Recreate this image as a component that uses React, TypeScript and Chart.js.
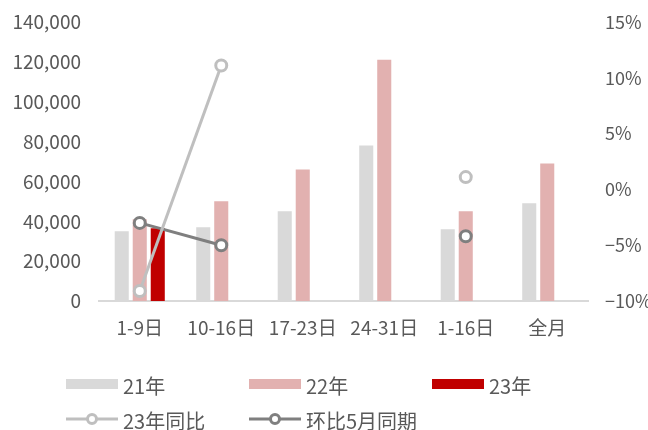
import React, { useEffect, useRef } from "react";
import { Chart, registerables } from "chart.js";

Chart.register(...registerables);

const categories = ["1-9日", "10-16日", "17-23日", "24-31日", "1-16日", "全月"];
const sales21 = [35000, 37000, 45000, 78000, 36000, 49000];
const sales22 = [41000, 50000, 66000, 121000, 45000, 69000];
const sales23 = [36500, null, null, null, null, null];
const yoy23 = [-9.1, 11.1, null, null, 1.1, null];
const vsMay = [-3.0, -5.0, null, null, -4.2, null];

const leftTicks = { min: 0, max: 140000, step: 20000 };
const rightTicks = { min: -10, max: 15, step: 5 };

const FONT = "'Noto Sans CJK SC', 'Noto Sans', sans-serif";
const TEXT = "#595959";

const C21 = "#d9d9d9";
const C22 = "#e2b1b0";
const C23 = "#c00000";
const CYOY = "#bfbfbf";
const CMAY = "#7f7f7f";

// Two-row legend laid out in fixed columns under the x axis
const gridLegend = {
  id: "gridLegend",
  afterDraw(chart: any) {
    const ctx = chart.ctx;
    const cols = [66, 249, 432];
    const rows = [384, 419];
    const swatchW = 52;
    ctx.save();
    ctx.font = `20px ${FONT}`;
    ctx.fillStyle = TEXT;
    ctx.textBaseline = "middle";
    ctx.textAlign = "left";
    const bars = chart.data.datasets.filter((d: any) => d.type === "bar");
    const lines = chart.data.datasets.filter((d: any) => d.type === "line");
    bars.forEach((d: any, i: number) => {
      const x = cols[i];
      const y = rows[0];
      ctx.fillStyle = d.backgroundColor;
      ctx.fillRect(x, y - 5, swatchW, 10);
      ctx.fillStyle = TEXT;
      ctx.fillText(d.label, x + swatchW + 5, y + 2);
    });
    lines.forEach((d: any, i: number) => {
      const x = cols[i];
      const y = rows[1];
      ctx.strokeStyle = d.borderColor;
      ctx.lineWidth = 3;
      ctx.beginPath();
      ctx.moveTo(x, y);
      ctx.lineTo(x + swatchW, y);
      ctx.stroke();
      ctx.beginPath();
      ctx.arc(x + swatchW / 2, y, 4.5, 0, Math.PI * 2);
      ctx.fillStyle = "#ffffff";
      ctx.fill();
      ctx.lineWidth = 3;
      ctx.stroke();
      ctx.fillStyle = TEXT;
      ctx.fillText(d.label, x + swatchW + 5, y + 2);
    });
    ctx.restore();
  },
};

const fmtThousands = (v: number) =>
  v === 0 ? "0" : String(v).replace(/\B(?=(\d{3})+(?!\d))/g, ",");
const fmtPct = (v: number) => (v < 0 ? "\u2212" + Math.abs(v) + "%" : v + "%");

// Fix the width of a vertical axis and drop its label overhang so the
// plot area is governed by the layout padding alone
const fitVertical = (width: number) => (scale: any) => {
  scale.width = width;
  scale.paddingTop = 0;
  scale.paddingBottom = 0;
};

export default function App() {
  const canvasRef = useRef<HTMLCanvasElement | null>(null);

  useEffect(() => {
    document.body.style.margin = "0";
    const canvas = canvasRef.current;
    if (!canvas) return;
    const lineStyle = (color: string) => ({
      borderColor: color,
      backgroundColor: color,
      borderWidth: 3,
      pointRadius: 5.5,
      pointBorderWidth: 3,
      pointBackgroundColor: "#ffffff",
      pointBorderColor: color,
      tension: 0,
      spanGaps: false,
      yAxisID: "y1",
    });
    const barStyle = {
      categoryPercentage: 0.663,
      barPercentage: 0.78,
      yAxisID: "y",
      borderWidth: 0,
    };
    const chart = new Chart(canvas, {
      type: "bar",
      data: {
        labels: categories,
        datasets: [
          { type: "bar", label: "21年", data: sales21, backgroundColor: C21, order: 3, ...barStyle },
          { type: "bar", label: "22年", data: sales22, backgroundColor: C22, order: 3, ...barStyle },
          { type: "bar", label: "23年", data: sales23, backgroundColor: C23, order: 3, ...barStyle },
          { type: "line", label: "23年同比", data: yoy23, order: 1, ...lineStyle(CYOY) },
          { type: "line", label: "环比5月同期", data: vsMay, order: 2, ...lineStyle(CMAY) },
        ] as any,
      },
      options: {
        animation: false,
        responsive: false,
        maintainAspectRatio: false,
        layout: { padding: { top: 22, left: 0, right: 0, bottom: 0 } },
        plugins: {
          legend: { display: false },
          tooltip: { enabled: false },
        },
        scales: {
          x: {
            grid: { display: false, drawTicks: false },
            border: { display: true, color: "#d9d9d9", width: 2 },
            ticks: {
              color: TEXT,
              font: { family: FONT, size: 19 },
              padding: 15,
              maxRotation: 0,
              autoSkip: false,
            },
            afterFit(scale: any) {
              scale.height = 129;
            },
          },
          y: {
            position: "left",
            min: leftTicks.min,
            max: leftTicks.max,
            grid: { display: false, drawTicks: false },
            border: { display: false },
            ticks: {
              stepSize: leftTicks.step,
              color: TEXT,
              font: { family: FONT, size: 19 },
              padding: 18,
              callback: (v: any) => fmtThousands(Number(v)),
            },
            afterFit: fitVertical(99),
          },
          y1: {
            position: "right",
            min: rightTicks.min,
            max: rightTicks.max,
            grid: { display: false, drawTicks: false },
            border: { display: false },
            ticks: {
              stepSize: rightTicks.step,
              color: TEXT,
              font: { family: FONT, size: 18 },
              padding: 17,
              callback: (v: any) => fmtPct(Number(v)),
            },
            afterFit: fitVertical(60),
          },
        },
      },
      plugins: [gridLegend],
    });
    return () => chart.destroy();
  }, []);

  return (
    <div style={{ position: "absolute", left: 0, top: 0, width: 648, height: 430, background: "#ffffff" }}>
      <canvas ref={canvasRef} width={648} height={430} />
    </div>
  );
}
